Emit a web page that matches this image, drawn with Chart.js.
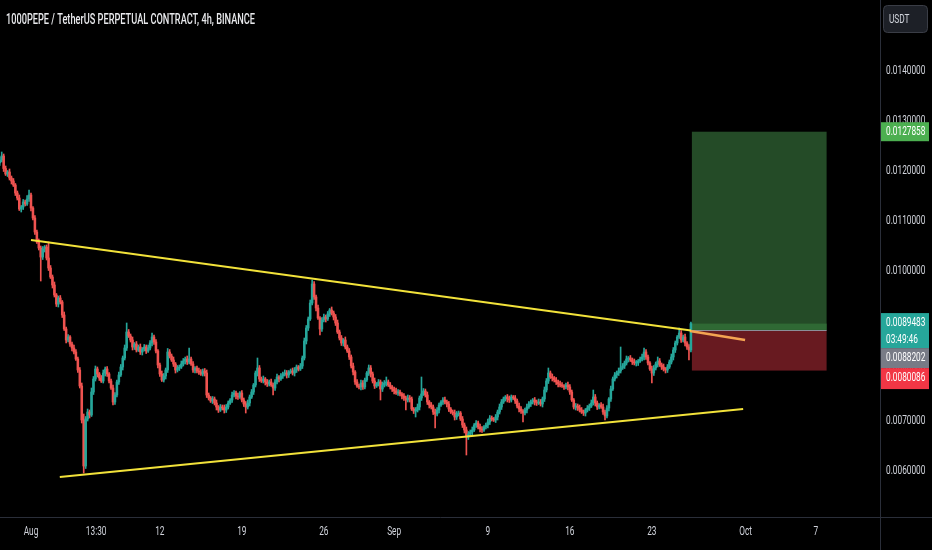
<!DOCTYPE html>
<html>
<head>
<meta charset="utf-8">
<script src="https://cdn.jsdelivr.net/npm/chart.js@4.4.0/dist/chart.umd.min.js"></script>
<style>
html,body{margin:0;padding:0;background:#000;overflow:hidden;}
#wrap{width:932px;height:550px;position:relative;}
canvas{display:block;}
</style>
</head>
<body>
<div id="wrap"><canvas id="c" width="932" height="550"></canvas></div>
<script>
// ---------------- DATA ----------------
const TITLE = '1000PEPE / TetherUS PERPETUAL CONTRACT, 4h, BINANCE';
const CURRENCY = 'USDT';
const PRICE_UNIT = 1e-4;            // candle values below are in units of 0.0001
const FIRST_CANDLE_HOUR = -64;      // Jul 29 08:00, hours from Aug 1 00:00
const CANDLE_HOURS = 4;
const FIRST_OPEN = 121.6;

const closes = [
122.2,123.0,120.5,119.4,119.8,118.6,118.0,117.2,115.6,114.6,
112.4,112.8,113.8,113.4,114.4,115.2,112.6,110.6,107.8,105.8,
104.6,102.8,104.4,104.8,102.6,100.6,98.8,97.2,95.2,93.4,
94.6,93.8,91.2,88.4,86.2,86.8,85.4,84.6,83.8,82.4,
80.2,77.0,70.2,61.0,70.4,71.8,71.2,75.8,78.4,80.4,
79.4,78.6,78.0,79.6,80.4,79.4,78.0,76.6,73.8,75.2,
77.8,79.2,80.8,82.6,84.6,87.8,87.0,86.2,84.8,85.4,
84.2,84.8,83.8,84.4,84.8,84.0,84.6,85.6,86.8,85.8,
84.0,81.2,79.4,78.2,79.0,80.2,83.8,83.0,82.2,81.4,
80.2,80.6,80.8,81.4,82.0,82.4,81.8,82.4,81.4,80.2,
80.6,80.0,79.8,79.4,80.0,79.6,75.2,74.6,74.0,74.4,
73.6,72.8,72.2,72.8,72.6,72.2,72.8,73.6,74.2,75.2,
75.6,75.0,74.8,75.6,74.2,73.4,72.8,73.6,74.8,75.8,
77.2,79.6,80.6,78.4,78.0,78.4,77.8,77.4,77.8,77.2,
76.6,77.8,78.8,78.4,79.0,79.4,79.6,79.2,79.8,80.0,
79.6,80.2,80.8,80.4,81.0,82.6,86.0,88.6,90.4,93.6,
97.4,94.8,92.6,90.6,88.4,90.2,90.8,90.4,91.4,92.2,
91.6,90.8,89.6,87.8,86.6,85.6,86.2,84.8,84.0,82.8,
81.0,79.8,77.8,77.0,76.8,77.6,76.8,78.2,79.6,80.6,
79.4,78.0,77.0,77.4,77.8,76.4,77.2,77.6,77.8,77.2,
76.8,76.4,76.0,75.6,75.8,75.4,75.0,74.6,74.2,74.6,
74.4,72.4,72.0,72.2,72.8,74.6,75.4,76.0,75.2,73.8,
73.2,72.8,71.8,71.4,72.2,73.2,73.8,74.2,73.8,73.4,
72.4,71.8,71.6,70.8,71.4,71.6,70.4,69.2,68.2,66.8,
67.4,67.8,68.2,69.2,69.6,68.8,68.4,68.2,68.8,69.2,
69.8,70.6,70.4,70.2,70.8,71.8,72.8,73.8,74.4,74.8,
74.4,74.2,74.8,74.6,74.0,73.0,72.4,72.0,71.6,72.2,
72.8,73.4,73.8,74.2,73.8,73.6,73.8,73.4,74.4,76.2,
78.0,79.6,78.8,78.6,78.2,77.8,77.4,77.2,77.0,76.8,
77.2,76.8,75.8,74.2,72.8,73.0,72.6,72.2,71.8,71.6,
72.2,72.6,73.0,73.6,74.8,73.6,72.8,73.2,72.8,71.8,
71.0,72.6,74.4,76.4,78.4,79.2,79.6,80.0,80.6,81.0,
81.6,82.4,82.6,82.2,81.8,81.6,81.6,82.0,82.4,82.8,
83.8,82.8,81.6,80.4,79.6,80.6,81.4,82.0,81.2,80.8,
80.4,80.2,80.8,81.8,82.8,84.2,85.6,86.8,87.6,86.2,
86.8,85.6,84.8,84.2,89.483
];

// wick lengths above / below the body, in tenths of PRICE_UNIT
const wickUp = [
6,8,4,5,3,6,4,5,3,4,6,3,5,4,7,10,4,3,5,4,
6,4,5,3,4,32,5,4,6,3,4,5,3,6,4,5,3,4,6,5,
4,5,6,12,5,6,4,8,5,6,4,3,5,6,4,5,3,4,6,5,
4,6,5,4,6,18,5,4,6,3,5,4,6,3,5,4,6,5,8,4,
5,3,4,6,5,4,7,5,4,6,3,5,4,6,5,4,6,22,4,5,
3,4,6,5,4,5,6,4,3,5,4,6,3,5,4,6,5,4,3,6,
5,4,6,3,5,4,5,6,4,5,3,4,20,5,4,6,3,5,4,6,
4,5,6,3,5,4,6,5,3,4,6,5,4,3,5,4,6,5,4,6,
8,5,4,6,3,5,6,4,5,3,6,4,5,6,4,5,3,6,4,5,
4,6,3,5,4,6,5,4,3,6,5,4,6,3,5,4,6,5,10,4,
5,3,4,6,5,4,3,5,4,6,5,4,3,5,6,4,34,5,4,6,
3,5,4,6,5,4,3,5,6,4,5,3,4,6,5,4,3,5,4,6,
5,4,6,3,5,4,6,5,3,4,6,5,4,3,5,4,6,5,4,3,
5,6,4,3,5,4,6,5,3,4,6,5,4,3,5,4,6,5,4,6,
5,10,4,6,3,5,4,6,5,3,4,6,5,4,3,5,4,6,5,4,
3,5,4,6,14,5,4,3,5,6,4,5,3,6,4,5,4,6,42,5,
4,6,3,5,4,6,5,3,4,6,8,5,4,3,6,5,4,8,5,4,
6,3,5,4,6,5,4,3,10,5,4,6,3,5,3
];
const wickDn = [
5,4,6,3,5,4,6,3,5,4,3,6,5,4,3,5,6,4,5,3,
4,48,5,6,4,5,3,6,4,5,6,4,5,3,6,4,5,6,4,3,
5,4,6,14,5,4,6,3,5,4,6,5,3,4,6,5,4,3,6,5,
4,5,3,6,4,5,3,4,6,5,4,3,5,6,4,5,3,4,6,5,
4,6,5,3,4,6,5,4,3,5,6,4,5,3,4,6,5,4,3,5,
6,4,5,3,4,6,5,4,3,5,4,6,5,3,4,6,5,4,3,5,
4,6,5,3,4,5,12,4,6,3,5,4,6,5,3,4,6,5,4,3,
14,5,4,6,3,5,4,6,5,3,4,6,5,4,3,5,4,6,5,3,
4,5,6,3,12,5,4,6,3,5,4,6,5,3,4,5,6,4,3,5,
4,6,5,3,4,6,5,4,3,5,6,4,5,3,4,22,5,4,6,3,
4,5,6,3,5,4,6,5,20,4,6,3,5,12,4,6,5,3,4,5,
6,4,5,28,4,6,3,5,4,6,5,3,4,6,5,4,3,5,6,36,
5,4,6,3,5,4,6,5,3,4,6,5,4,3,5,6,4,5,3,4,
6,5,4,3,5,4,6,5,18,4,6,3,5,4,6,5,3,4,6,5,
4,5,3,6,4,5,6,4,3,5,4,6,5,3,4,6,5,4,3,5,
6,4,5,3,4,6,5,4,3,5,8,4,6,5,3,4,6,5,4,3,
5,4,6,3,5,4,6,5,3,4,6,5,4,3,20,5,4,6,3,5,
4,6,5,3,4,6,5,4,3,5,4,6,5,20,4
];

// time axis (hours from Aug 1 00:00)
const timeTickHours  = [0, 133.5, 264, 432, 600, 744, 936, 1104, 1272, 1464, 1608];
const timeTickLabels = ['Aug','13:30','12','19','26','Sep','9','16','23','Oct','7'];
const X_MIN = -63.5, X_MAX = 1739.4;

// price axis
const priceTicks = [0.006,0.007,0.008,0.009,0.010,0.011,0.012,0.013,0.014];
const Y_MIN = 0.00508, Y_MAX = 0.01542;

// drawings
const upperTrend  = [[0, 0.01062], [1352, 0.00881]];
const orangeTrend = [[1350, 0.00880], [1463, 0.00862]];
const lowerTrend  = [[59, 0.00588], [1459, 0.00724]];
const positionStartHour = 1354, positionEndHour = 1630;
const targetPrice = 0.0127858, entryPrice = 0.0088202, stopPrice = 0.0080086;
const lastPrice = 0.0089483, countdown = '03:49:46';

// ---------------- STYLE ----------------
const UP = '#26a69a', DOWN = '#ef5350';
const TXT = '#d1d4dc', AXIS_LINE = '#2a2e39';
const FONT = 'Roboto, "Liberation Sans", sans-serif';
const SQUEEZE = 0.69;   // horizontal text compression seen in the reference

// ---------------- BUILD ----------------
const opens = closes.map((c, i) => i === 0 ? FIRST_OPEN : closes[i - 1]);
const hours = closes.map((c, i) => FIRST_CANDLE_HOUR + i * CANDLE_HOURS);
const highs = closes.map((c, i) => Math.max(opens[i], c) + wickUp[i] / 10);
const lows  = closes.map((c, i) => Math.min(opens[i], c) - wickDn[i] / 10);
const colors = closes.map((c, i) => c >= opens[i] ? UP : DOWN);

const bodyData = closes.map((c, i) => ({x: hours[i], y: [opens[i] * PRICE_UNIT, c * PRICE_UNIT]}));
const wickData = closes.map((c, i) => ({x: hours[i], y: [lows[i] * PRICE_UNIT, highs[i] * PRICE_UNIT]}));
const toPts = arr => arr.map(p => ({x: p[0], y: p[1]}));

function squeezedText(ctx, t, x, y, sx) {
  ctx.save(); ctx.translate(x, y); ctx.scale(sx, 1); ctx.fillText(t, 0, 0); ctx.restore();
}
function squeezeScale(scale, sx) {
  if (scale._squeezed) return;
  scale._squeezed = true;
  const orig = scale.drawLabels;
  scale.drawLabels = function (area) {
    const ctx = this.ctx;
    const proto = CanvasRenderingContext2D.prototype.fillText;
    ctx.fillText = function (t, x, y) {
      this.save(); this.translate(x, y); this.scale(sx, 1); proto.call(this, t, 0, 0); this.restore();
    };
    try { orig.call(this, area); } finally { delete ctx.fillText; }
  };
}

const overlay = {
  id: 'overlay',
  beforeDraw(chart) {
    squeezeScale(chart.scales.x, SQUEEZE);
    squeezeScale(chart.scales.y, SQUEEZE);
  },
  beforeDatasetsDraw(chart) {
    const {ctx, scales: {x, y}} = chart;
    const x0 = x.getPixelForValue(positionStartHour), x1 = x.getPixelForValue(positionEndHour);
    const yT = y.getPixelForValue(targetPrice), yE = y.getPixelForValue(entryPrice);
    const yS = y.getPixelForValue(stopPrice), yL = y.getPixelForValue(lastPrice);
    ctx.save();
    ctx.fillStyle = '#244b27';
    ctx.fillRect(x0, yT, x1 - x0, yE - yT);
    ctx.fillStyle = '#2f6934';
    ctx.fillRect(x0, yL, x1 - x0, yE - yL);
    ctx.fillStyle = '#681a20';
    ctx.fillRect(x0, yE, x1 - x0, yS - yE);
    ctx.strokeStyle = '#8b8e98';
    ctx.lineWidth = 1;
    ctx.beginPath(); ctx.moveTo(x0, Math.round(yE) + 0.5); ctx.lineTo(x1, Math.round(yE) + 0.5); ctx.stroke();
    ctx.restore();
  },
  afterDraw(chart) {
    const {ctx, chartArea: a, scales: {y}} = chart;
    ctx.save();
    // axis line extensions
    ctx.strokeStyle = AXIS_LINE; ctx.lineWidth = 1;
    ctx.beginPath();
    ctx.moveTo(a.right + 0.5, a.bottom); ctx.lineTo(a.right + 0.5, chart.height);
    ctx.moveTo(a.right, a.bottom + 0.5); ctx.lineTo(chart.width, a.bottom + 0.5);
    ctx.stroke();
    // title
    ctx.font = '500 14px ' + FONT;
    ctx.fillStyle = '#e8e9ec'; ctx.textBaseline = 'middle'; ctx.textAlign = 'left';
    const tw = ctx.measureText(TITLE).width;
    squeezedText(ctx, TITLE, 6, 20, 249 / tw);
    // currency button
    ctx.fillStyle = '#1d2027'; ctx.strokeStyle = '#3a3d46';
    ctx.beginPath(); ctx.roundRect(883.5, 5.5, 44, 27, 4); ctx.fill(); ctx.stroke();
    ctx.fillStyle = TXT; ctx.font = '12px ' + FONT;
    squeezedText(ctx, CURRENCY, 889, 19.5, SQUEEZE);
    // price labels
    const bx = a.right + 1, bw = 48, tx = a.right + 6;
    const label = (top, h, bg, lines) => {
      ctx.fillStyle = bg; ctx.fillRect(bx, top, bw, h);
      ctx.fillStyle = '#ffffff'; ctx.font = '12px ' + FONT;
      lines.forEach((t, k) => squeezedText(ctx, t, tx, top + 10 + k * 17, SQUEEZE));
    };
    const yT = y.getPixelForValue(targetPrice);
    label(yT - 9.5, 19, '#4caf50', [targetPrice.toFixed(7)]);
    const yL = y.getPixelForValue(lastPrice);
    const t1 = yL - 10.5;
    label(t1, 35, '#26a69a', [lastPrice.toFixed(7), countdown]);
    label(t1 + 35, 20, '#787b86', [entryPrice.toFixed(7)]);
    label(t1 + 55, 21, '#f23645', [stopPrice.toFixed(7)]);
    ctx.restore();
  }
};

new Chart(document.getElementById('c'), {
  data: {
    datasets: [
      {type: 'line', data: toPts(upperTrend), borderColor: '#f2e23a', borderWidth: 2, pointRadius: 0, order: 0},
      {type: 'line', data: toPts(orangeTrend), borderColor: '#f4a452', borderWidth: 2.5, pointRadius: 0, order: 0},
      {type: 'line', data: toPts(lowerTrend), borderColor: '#f2e23a', borderWidth: 2, pointRadius: 0, order: 0},
      {type: 'bar', data: wickData, backgroundColor: colors, barThickness: 1, grouped: false, minBarLength: 1, order: 2},
      {type: 'bar', data: bodyData, backgroundColor: colors, barThickness: 1.9, grouped: false, minBarLength: 1, order: 1}
    ]
  },
  options: {
    responsive: false,
    animation: false,
    devicePixelRatio: 1,
    layout: {padding: 0},
    plugins: {legend: {display: false}, tooltip: {enabled: false}},
    scales: {
      x: {
        type: 'linear', position: 'bottom', min: X_MIN, max: X_MAX, offset: false,
        grid: {display: false, drawTicks: false},
        border: {display: true, color: AXIS_LINE},
        afterBuildTicks: s => { s.ticks = timeTickHours.map(v => ({value: v})); },
        afterFit: s => { s.height = 33; s.paddingLeft = 0; s.paddingRight = 0; s.paddingTop = 0; s.paddingBottom = 0; },
        ticks: {
          autoSkip: false, maxRotation: 0, padding: 8, color: TXT,
          font: {family: FONT, size: 12},
          callback: (v, i) => timeTickLabels[i]
        }
      },
      y: {
        type: 'linear', position: 'right', min: Y_MIN, max: Y_MAX,
        grid: {display: false, drawTicks: false},
        border: {display: true, color: AXIS_LINE},
        afterBuildTicks: s => { s.ticks = priceTicks.map(v => ({value: v})); },
        afterFit: s => { s.width = 52; s.paddingLeft = 0; s.paddingRight = 0; s.paddingTop = 0; s.paddingBottom = 0; },
        ticks: {
          padding: 6, color: TXT, font: {family: FONT, size: 12},
          callback: v => v.toFixed(7)
        }
      }
    }
  },
  plugins: [overlay]
});
</script>
</body>
</html>
